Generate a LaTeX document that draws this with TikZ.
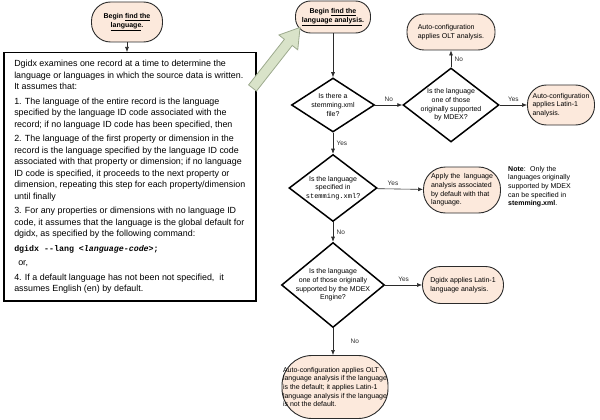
\documentclass[tikz,border=0pt]{standalone}
\usepackage{fontspec}
\setmainfont{Liberation Sans}
\setmonofont{Liberation Mono}
\usepackage{tikz}
\usetikzlibrary{arrows.meta,positioning,calc,shapes.geometric}
\definecolor{peach}{HTML}{FCE9DC}
\definecolor{edge}{HTML}{2B2B2B}
\definecolor{leaf}{HTML}{D9E3C9}
\definecolor{leafedge}{HTML}{9DAA8E}
\tikzset{
  >={Latex[length=5pt,width=4pt]},
  term/.style={draw=edge,line width=0.9pt,fill=peach,font=\fontsize{7}{8.6}\selectfont,align=left,inner sep=2pt},
  decision/.style={diamond,draw=black,line width=1.5pt,fill=white,inner sep=-6pt,font=\fontsize{7}{8.6}\selectfont,align=center},
  lab/.style={font=\fontsize{6.5}{7}\selectfont,text=edge},
  arr/.style={->,draw=edge,line width=0.6pt},
}

\begin{document}
\begin{tikzpicture}[x=1pt,y=-1pt]
\useasboundingbox (0,0) rectangle (600,420);

% left column: start and the rules box
\node[term,rounded corners=19pt,minimum width=71pt,minimum height=40pt,align=center,font=\bfseries\fontsize{7}{8.6}\selectfont] (begin1) at (127,22) {Begin \underline{find the}\\\underline{language}.};
\node[draw=black,line width=1.5pt,anchor=north west,minimum width=249pt,minimum height=248pt,align=left,inner xsep=10.5pt,font=\fontsize{8.9}{11.5}\selectfont] (rules) at (3,52)
  {Dgidx examines one record at a time to determine the\\
   language or languages in which the source data is written.\\
   It assumes that:\\[3pt]
   1. The language of the entire record is the language\\
   specified by the language ID code associated with the\\
   record; if no language ID code has been specified, then\\[3pt]
   2. The language of the first property or dimension in the\\
   record is the language specified by the language ID code\\
   associated with that property or dimension; if no language\\
   ID code is specified, it proceeds to the next property or\\
   dimension, repeating this step for each property/dimension\\
   until finally\\[3pt]
   3. For any properties or dimensions with no language ID\\
   code, it assumes that the language is the global default for\\
   dgidx, as specified by the following command:\\[3pt]
   {\ttfamily\bfseries\fontsize{8.3}{11.5}\selectfont dgidx --lang <\textit{language-code}>;}\\[3pt]
   \hspace*{4pt}or,\\[3pt]
   4. If a default language has not been not specified,~ it\\
   assumes English (en) by default.};

% main flow
\node[term,rounded corners=15pt,minimum width=75pt,minimum height=32pt,align=center,font=\bfseries\fontsize{7}{8.6}\selectfont] (begin2) at (333,17) {Begin \underline{find the}\\\underline{language analysis}.};
\node[decision,minimum width=83pt,minimum height=54pt] (q1) at (333,105) {Is there a\\stemming.xml\\file?};
\node[decision,minimum width=96pt,minimum height=74pt] (q2) at (451,105) {Is the language\\one of those\\originally supported\\by MDEX?};
\node[term,rounded corners=17pt,minimum width=88pt,minimum height=36pt] (olt) at (451,32) {Auto-configuration\\applies OLT analysis.};
\node[term,rounded corners=19pt,minimum width=67pt,minimum height=40pt] (latin) at (561,105) {Auto-configuration\\applies Latin-1\\analysis.};
\node[decision,minimum width=88pt,minimum height=67pt] (q3) at (333,188) {Is the language\\specified in\\{\ttfamily stemming.xml}?};
\node[term,rounded corners=22pt,minimum width=77pt,minimum height=46pt] (apply) at (462,190) {Apply the~ language\\analysis associated\\by default with that\\language.};
\node[font=\fontsize{7}{8.6}\selectfont,align=left,anchor=north west,inner sep=0pt] (note) at (508,166) {\textbf{Note}:~ Only the\\languages originally\\supported by MDEX\\can be specified in\\\textbf{stemming.xml}.};
\node[decision,minimum width=103pt,minimum height=85pt] (q4) at (333,285) {Is the language\\one of those originally\\supported by the MDEX\\Engine?};
\node[term,rounded corners=18pt,minimum width=81pt,minimum height=37pt] (engine) at (463,285) {Dgidx applies Latin-1\\language analysis.};
\node[term,rounded corners=30pt,minimum width=106pt,minimum height=63pt,inner xsep=0pt] (fallback) at (335,387) {Auto-configuration applies OLT\\language analysis if the language\\is the default; it applies Latin-1\\language analysis if the language\\is not the default.};

% hollow arrow from the rules to the analysis flow
\coordinate (gtail) at ($(rules.north east)+(-4,36)$);
\coordinate (gtip) at ($(begin2.south west)+(5,-6)$);
\coordinate (gneck) at ($(gtip)!19pt!(gtail)$);
\filldraw[fill=leaf,draw=leafedge,line width=0.8pt]
  ($(gtail)!5pt!90:(gtip)$) -- ($(gneck)!5pt!90:(gtip)$) -- ($(gneck)!12pt!90:(gtip)$)
  -- (gtip) -- ($(gneck)!12pt!-90:(gtip)$) -- ($(gneck)!5pt!-90:(gtip)$)
  -- ($(gtail)!5pt!-90:(gtip)$) -- cycle;

% connectors
\draw[arr] (begin1) -- (begin1 |- rules.north);
\draw[arr] (begin2) -- (q1);
\draw[arr] (q1) -- node[lab,above] {No} (q2);
\draw[arr] (q2) -- node[lab,right] {No} (olt);
\draw[arr] (q2) -- node[lab,above] {Yes} (latin);
\draw[arr] (q1) -- node[lab,right] {Yes} (q3);
\draw[arr] (q3) -- node[lab,above,pos=0.35] {Yes} (apply);
\draw[arr] (q3) -- node[lab,right] {No} (q4);
\draw[arr] (q4) -- node[lab,above] {Yes} (engine);
\draw[arr] (q4) -- node[lab,right=14pt] {No} (q4 |- fallback.north);
\end{tikzpicture}
\end{document}
